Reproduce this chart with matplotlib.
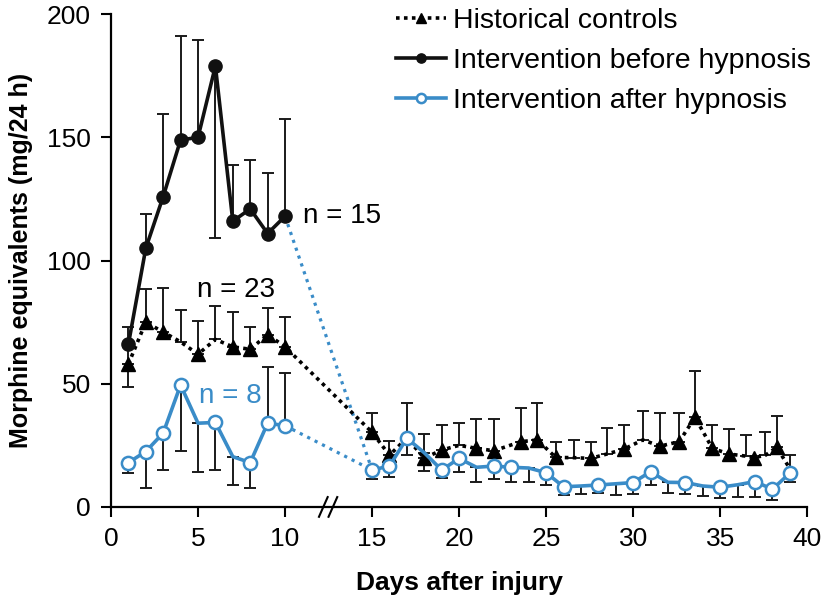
import numpy as np
import matplotlib
matplotlib.use('Agg')
import matplotlib.pyplot as plt

nan = np.nan

# historical controls (black triangles, dotted)
hist_days = [1, 2, 3, 4, 5, 6, 7, 8, 9, 10,
             15, 16, 17, 18, 19, 20, 21, 22, 23.55, 24.5,
             25.55, 26.6, 27.55, 28.5, 29.45, 30.55, 31.55, 32.65, 33.55, 34.55,
             35.5, 36.5, 36.95, 37.6, 38.25, 39.05]
hist_vals = [58, 75, 71, 67, 62, 68, 65, 64, 70, 65,
             30.3, 21, 28, 19.8, 23.1, 25, 23.8, 22.8, 26.5, 27.2,
             20.1, 20, 19.7, 21.5, 23.4, 27.2, 24.7, 26.5, 36.4, 23.8,
             21.5, 20.6, 20, 21, 24.2, 15]
hist_top = [73, 88.4, 89, 80, 75.6, 81.5, 79, 72.9, 80.6, 77.2,
            38.2, 26.6, 42, 29.8, 33.2, 34.1, 35.6, 35.7, 40, 42.3,
            26.2, 27.3, 26.2, 32.2, 33.3, 38.9, 38.3, 38, 55.3, 33.3,
            31.5, 29.2, nan, 30.6, 36.9, nan]
hist_bottom = [48.6] + [nan] * 35
hist_marked = [1, 1, 1, 0, 1, 0, 1, 1, 1, 1,
               1, 1, 0, 1, 1, 0, 1, 1, 1, 1,
               1, 0, 1, 0, 1, 0, 1, 1, 1, 1,
               1, 0, 1, 0, 1, 0]

# intervention before hypnosis (black circles)
before_days = [1, 2, 3, 4, 5, 6, 7, 8, 9, 10]
before_vals = [66, 105, 126, 149, 150, 179, 116, 121, 111, 118]
before_top = [nan, 118.8, 159.7, 191, 189.5, nan, 138.7, 140.8, 135.4, 157.3]
before_bottom = [nan, nan, nan, nan, nan, 109, nan, nan, nan, nan]

# intervention after hypnosis (open blue circles)
after_days = [1, 2, 3, 4, 5, 6, 7, 8, 9, 10] + list(range(15, 40))
after_vals = [18, 22.5, 30, 49.5, 34, 34.3, 20.4, 18, 34, 33,
              15, 16.6, 27.9, 22, 15, 19.7, 16.1, 16.6, 16.1, 15.8,
              13.9, 8.2, 8.5, 8.9, 9.4, 9.9, 14.3, 10, 9.9, 8.5,
              8, 9, 10.3, 7.2, 13.7]
after_bottom = [13.9, 7.6, 15, 22.7, 14.3, 15, 8.9, 7.8, nan, nan,
                11.2, 12, 21.1, 14.6, 11.6, 14.3, 10.3, 11.4, 10, 10.3,
                8.9, 4.9, 5.3, 5.5, 4.9, 5.3, 8.9, 5.8, 5.3, 4.5,
                3.5, 4.2, 4.2, 2.8, 10.3]
after_top = [nan] * 8 + [56.7, 54.2] + [nan] * 24 + [21.1]
after_unmarked = [5, 7, 18, 21, 24, 27, 29, 32, 34, 36]

break_day = 12.5
blue = '#3a8cc8'

plt.rcParams['font.family'] = ['Liberation Sans', 'DejaVu Sans']

fig = plt.figure(figsize=(8.22, 5.95), dpi=100)
ax = fig.add_axes([0.135, 0.148, 0.847, 0.828])


def draw_err(x, vals, top, bottom):
    x = np.array(x, float)
    v = np.array(vals, float)
    up = np.nan_to_num(np.array(top, float) - v, nan=0.0)
    lo = np.nan_to_num(v - np.array(bottom, float), nan=0.0)
    # draw each side separately so caps only sit on the side that exists
    m = up > 0
    ax.errorbar(x[m], v[m], yerr=[np.zeros(m.sum()), up[m]], fmt='none',
                ecolor='#1a1a1a', elinewidth=1.4, capsize=4, capthick=1.4, zorder=1)
    m = lo > 0
    ax.errorbar(x[m], v[m], yerr=[lo[m], np.zeros(m.sum())], fmt='none',
                ecolor='#1a1a1a', elinewidth=1.4, capsize=4, capthick=1.4, zorder=1)


draw_err(hist_days, hist_vals, hist_top, hist_bottom)
draw_err(before_days, before_vals, before_top, before_bottom)
draw_err(after_days, after_vals, after_top, after_bottom)

# dotted connectors across the gap
ax.plot([before_days[-1], after_days[10]], [before_vals[-1], after_vals[10]],
        ls=(0, (1, 1.6)), color=blue, lw=2.3, zorder=2)
ax.plot([after_days[9], after_days[10]], [after_vals[9], after_vals[10]],
        ls=(0, (1, 1.6)), color=blue, lw=2.3, zorder=2)

# historical controls
hmark = [i for i, m in enumerate(hist_marked) if m]
ax.plot(hist_days, hist_vals, ls=(0, (1, 1.2)), color='black', lw=2.6,
        marker='^', ms=10, markevery=hmark, zorder=3,
        label='Historical controls')

# before hypnosis
ax.plot(before_days, before_vals, '-', color='#111111', lw=2.6,
        marker='o', ms=9.5, zorder=4, label='Intervention before hypnosis')

# after hypnosis, solid pieces split at the gap
ad_line = np.insert(np.array(after_days, float), 10, np.nan)
av_line = np.insert(np.array(after_vals, float), 10, np.nan)
amark = [i for i, d in enumerate(after_days) if d not in after_unmarked]
amark_line = [i if i < 10 else i + 1 for i in amark]
ax.plot(ad_line, av_line, '-', color=blue, lw=2.6, marker='o', ms=9.5,
        mfc='white', mec=blue, mew=1.8, markevery=amark_line, zorder=5,
        label='Intervention after hypnosis')

# annotations
ax.text(13.3, 118, 'n = 15', fontsize=20, ha='center', va='center')
ax.text(7.2, 88, 'n = 23', fontsize=20, ha='center', va='center')
ax.text(6.85, 45, 'n = 8', fontsize=20, ha='center', va='center', color=blue)

# axis break mark
for dx in (-0.3, 0.25):
    ax.plot([break_day + dx - 0.25, break_day + dx + 0.25], [-4, 4],
            color='black', lw=1.5, clip_on=False, zorder=6)

ax.set_xlim(0, 40)
ax.set_ylim(0, 200)
ax.set_xticks(range(0, 41, 5))
ax.set_yticks(range(0, 201, 50))
for s in ('top', 'right'):
    ax.spines[s].set_visible(False)
for s in ('left', 'bottom'):
    ax.spines[s].set_linewidth(1.6)
ax.tick_params(length=7.5, width=1.5, direction='out', pad=7, labelsize=19)

ax.set_xlabel('Days after injury', fontsize=19, fontweight='bold', labelpad=14)
ax.set_ylabel('Morphine equivalents (mg/24 h)', fontsize=18, fontweight='bold',
              labelpad=10)

leg = ax.legend(loc='upper left', bbox_to_anchor=(393 / 822, 590 / 595),
                bbox_transform=fig.transFigure, frameon=False, fontsize=20.5,
                handlelength=1.75, handletextpad=0.25, labelspacing=0.5,
                borderpad=0.1, borderaxespad=0, markerscale=0.7)

fig.savefig('out.png', dpi=100)
